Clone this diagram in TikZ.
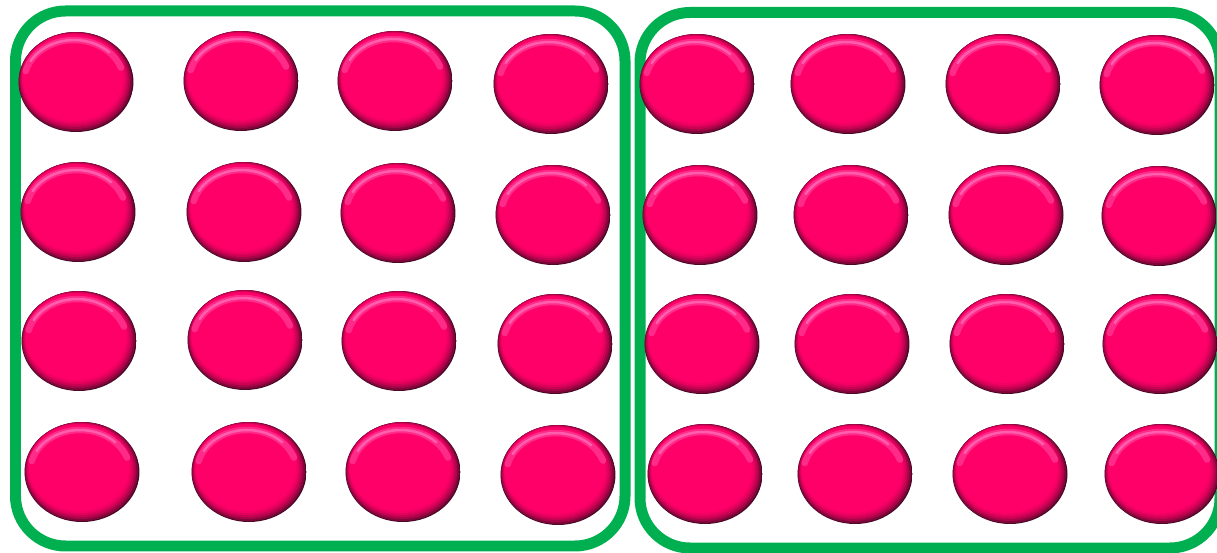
\documentclass[tikz,border=0pt]{standalone}
\usetikzlibrary{shapes.geometric}

\definecolor{framegreen}{HTML}{00B050}
\definecolor{beadpink}{HTML}{FF0068}
\definecolor{beadrim}{HTML}{4A0826}
\definecolor{beadlight}{HTML}{FF7CC4}

\begin{document}
\begin{tikzpicture}[x=0.02cm, y=-0.02cm,
    frame/.style={draw=framegreen, line width=0.22cm, rounded corners=1cm},
    bead/.style={ellipse, minimum width=2.3cm, minimum height=2cm, inner sep=0pt,
      path picture={
        \begin{scope}[shift={(path picture bounding box.center)}]
          \foreach \k/\mix in {0/0,1/30,2/52,3/70,4/84,5/94,6/100}
            \fill[beadpink!\mix!beadrim] (-0.5*\k,-0.7*\k) ellipse ({58-1.3*\k} and {51-1.3*\k});
          \draw[beadlight!35!beadpink, line width=0.13cm, line cap=round]
            (-2,0) ++(-165:50 and 42) arc[start angle=-165, end angle=-20, x radius=50, y radius=42];
          \draw[beadlight!75!beadpink, line width=0.05cm, line cap=round]
            (-2,0) ++(-150:50 and 42) arc[start angle=-150, end angle=-45, x radius=50, y radius=42];
        \end{scope}
      }}
  ]
  \useasboundingbox (0,0) rectangle (1217,553);
  \clip (0,0) rectangle (1217,553);

  % the two frames
  \draw[frame] (15.5,11) rectangle (625,546);
  \draw[frame] (640,12.5) rectangle (1220,548);

  % left group
  \foreach \x/\y [count=\i] in {76/82, 241/81, 395/81, 551/84,
      78/212, 244/212, 398/213, 553/215,
      79/341, 245/340, 399/341, 555/344,
      82/472, 249/472, 403/472, 558/475}
    \node[bead] (l\i) at (\x,\y) {};

  % right group
  \foreach \x/\y [count=\i] in {697/84, 848/84, 1003/84, 1157/85,
      700/215, 851/215, 1006/215, 1159/216,
      702/344, 852/344, 1007/344, 1160/344,
      705/474, 855/474, 1010/474, 1162/474}
    \node[bead] (r\i) at (\x,\y) {};
\end{tikzpicture}
\end{document}
